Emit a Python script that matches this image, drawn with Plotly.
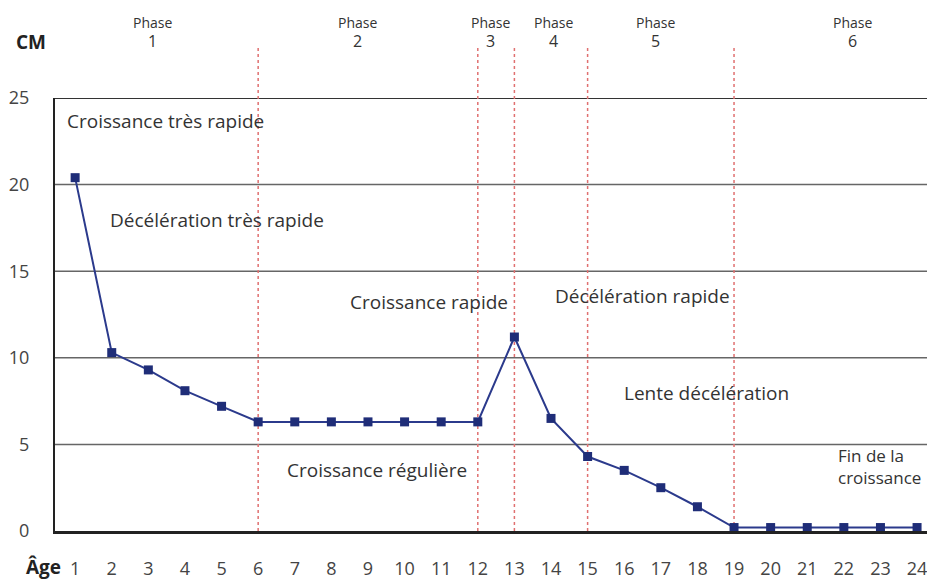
import plotly.graph_objects as go

ages = list(range(1, 25))
growth_cm = [20.4, 10.3, 9.3, 8.1, 7.2, 6.3, 6.3, 6.3, 6.3, 6.3, 6.3, 6.3,
             11.2, 6.5, 4.3, 3.5, 2.5, 1.4, 0.2, 0.2, 0.2, 0.2, 0.2, 0.2]
y_ticks = [0, 5, 10, 15, 20, 25]
phase_bounds = [6, 12, 13, 15, 19]
phase_names = ["1", "2", "3", "4", "5", "6"]
phase_centers = [3.1, 8.7, 12.34, 14.06, 16.85, 22.23]
phase_labels = [
    ("Croissance très rapide", 0.73, 23.7, 19),
    ("Décélération très rapide", 1.9, 17.96, 19),
    ("Croissance rapide", 8.46, 13.2, 19),
    ("Décélération rapide", 14.06, 13.57, 19),
    ("Lente décélération", 15.95, 7.97, 19),
    ("Croissance régulière", 6.74, 3.52, 19),
    ("Fin de la<br>croissance", 21.78, 3.75, 17),
]

FONT = "Open Sans"
TXT = "#333333"

fig = go.Figure()
fig.add_trace(go.Scatter(
    x=ages, y=growth_cm, mode="lines+markers",
    line=dict(color="#2b3a8c", width=2),
    marker=dict(symbol="square", size=9, color="#1f2d78"),
    cliponaxis=False, showlegend=False,
))

shapes = []
for g in [5, 10, 15, 20]:
    shapes.append(dict(type="line", xref="paper", yref="y", x0=0, x1=1, y0=g, y1=g,
                       line=dict(color="#666666", width=1.5), layer="below"))
shapes.append(dict(type="line", xref="paper", yref="y", x0=0, x1=1, y0=25, y1=25,
                   line=dict(color="#333333", width=2), layer="below"))
for b in phase_bounds:
    shapes.append(dict(type="line", xref="x", yref="paper", x0=b, x1=b, y0=0, y1=1.122,
                       line=dict(color="#e07070", width=1.5, dash="dot"), layer="below"))

annotations = []
for t, x, y, s in phase_labels:
    annotations.append(dict(text=t, x=x, y=y, xref="x", yref="y", xanchor="left",
                            yanchor="middle", align="left", showarrow=False,
                            font=dict(family=FONT, size=s, color=TXT)))
for name, c in zip(phase_names, phase_centers):
    annotations.append(dict(text="Phase", x=c, y=(531 - 22) / 433, xref="x", yref="paper",
                            showarrow=False, xanchor="center", yanchor="middle",
                            font=dict(family=FONT, size=14, color=TXT)))
    annotations.append(dict(text=name, x=c, y=(531 - 41) / 433, xref="x", yref="paper",
                            showarrow=False, xanchor="center", yanchor="middle",
                            font=dict(family=FONT, size=16, color=TXT)))
annotations.append(dict(text="<b>CM</b>", x=(31 - 55) / 880, y=(531 - 42) / 433,
                        xref="paper", yref="paper", showarrow=False, xanchor="center",
                        yanchor="middle", font=dict(family=FONT, size=19, color="#222222")))
annotations.append(dict(text="<b>Âge</b>", x=(63 - 55) / 880, y=(531 - 567) / 433,
                        xref="paper", yref="paper", showarrow=False, xanchor="right",
                        yanchor="middle", font=dict(family=FONT, size=19, color="#222222")))

# the page body adds an 8px offset, so the figure is 8px smaller with 8px smaller left/top margins
fig.update_layout(
    width=927, height=575,
    margin=dict(l=47, r=0, t=90, b=52),
    paper_bgcolor="white", plot_bgcolor="white",
    shapes=shapes, annotations=annotations,
    xaxis=dict(range=[0.45, 24.49], tickmode="array", tickvals=ages,
               ticktext=[str(a) for a in ages], showgrid=False, zeroline=False,
               showline=True, linecolor="#222222", linewidth=2.5, automargin=False,
               ticks="", ticklabelstandoff=20,
               tickfont=dict(family=FONT, size=18, color="#444444")),
    yaxis=dict(range=[0, 25], tickmode="array", tickvals=y_ticks,
               ticktext=[str(v) for v in y_ticks], showgrid=False, zeroline=False,
               showline=True, linecolor="#222222", linewidth=2, automargin=False,
               ticks="", ticklabelstandoff=20,
               tickfont=dict(family=FONT, size=18, color="#444444")),
)

fig.write_html("out.html")
